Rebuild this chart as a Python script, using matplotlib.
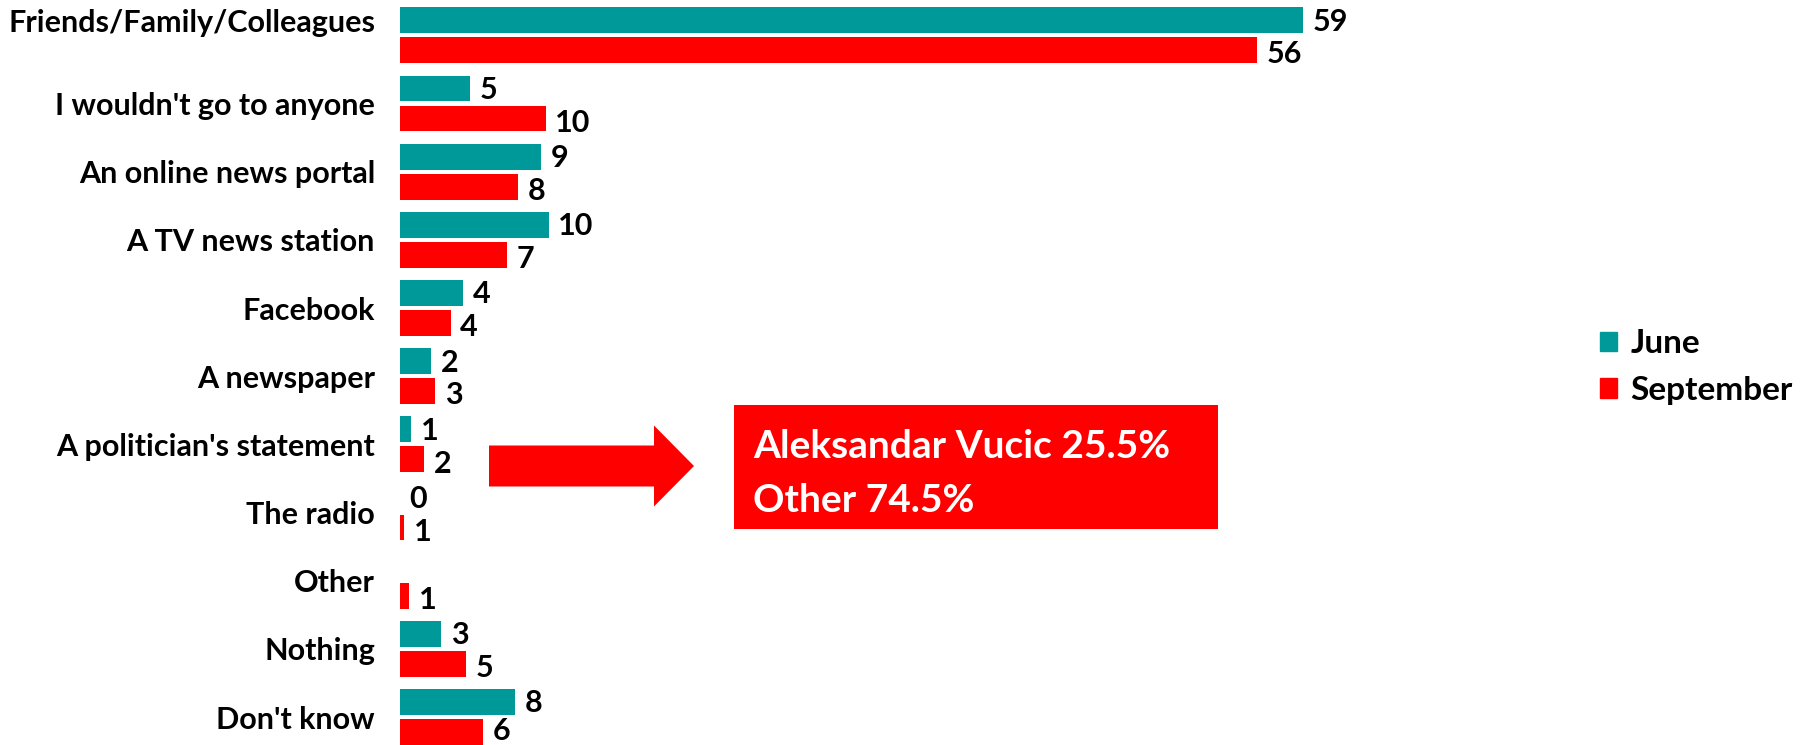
import numpy as np
import matplotlib
matplotlib.use('Agg')
from matplotlib import pyplot as plt
from matplotlib.patches import Patch, Rectangle, FancyArrow

# survey answers, top to bottom
categories = ['Friends/Family/Colleagues', "I wouldn't go to anyone", 'An online news portal',
              'A TV news station', 'Facebook', 'A newspaper', "A politician's statement",
              'The radio', 'Other', 'Nothing', "Don't know"]

# bar lengths as drawn in the picture (percent)
june = [58.9, 4.55, 9.2, 9.7, 4.1, 2.0, 0.7, 0.0, np.nan, 2.7, 7.5]
september = [55.9, 9.5, 7.7, 7.0, 3.3, 2.3, 1.55, 0.26, 0.57, 4.3, 5.4]

# the numbers printed next to the bars
june_labels = ['59', '5', '9', '10', '4', '2', '1', '0', '', '3', '8']
september_labels = ['56', '10', '8', '7', '4', '3', '2', '1', '1', '5', '6']

series_names = ['June', 'September']
box_lines = ['Aleksandar Vucic 25.5%', 'Other 74.5%']

TEAL = '#009999'
RED = '#FF0000'
FONT = 'Lato'

W, H = 1810, 745
fig = plt.figure(figsize=(W / 100, H / 100), dpi=100)

x0 = 400
xmax = 72
px_per_unit = 15.33
ax = fig.add_axes([x0 / W, 0, xmax * px_per_unit / W, 1])

y = np.arange(len(categories))
off = 0.22
bh = 0.38
ax.barh(y - off, june, height=bh, color=TEAL)
ax.barh(y + off, september, height=bh, color=RED)

n = len(categories)
for i in range(n):
	if june_labels[i]:
		v = 0 if np.isnan(june[i]) else june[i]
		ax.annotate(june_labels[i], (v, y[i] - off), xytext=(7, -1), textcoords='offset points',
		            va='center', ha='left', fontsize=22, fontweight='bold', family=FONT)
	# last label is nudged up so it stays inside the picture
	dy = 1 if i == n - 1 else -3
	ax.annotate(september_labels[i], (september[i], y[i] + off), xytext=(7, dy), textcoords='offset points',
	            va='center', ha='left', fontsize=22, fontweight='bold', family=FONT)

tick_pos = y.astype(float)
tick_pos[0] -= off  # first label sits level with the June bar
ax.set_yticks(tick_pos)
ax.set_yticklabels(categories, fontsize=22, fontweight='bold', family=FONT)
ax.tick_params(axis='y', length=0, pad=18)
ax.set_xticks([])
ax.set_xlim(0, xmax)
ax.set_ylim(10.41, -0.518)
for s in ax.spines.values():
	s.set_visible(False)

handles = [Patch(color=TEAL), Patch(color=RED)]
leg = fig.legend(handles, series_names, loc='center left', bbox_to_anchor=(1600 / W, 1 - 367 / H),
                 frameon=False, handlelength=0.52, handleheight=0.52, handletextpad=0.4,
                 labelspacing=0.53, borderpad=0, borderaxespad=0,
                 prop={'family': FONT, 'weight': 'bold', 'size': 24})

# overlay in pixel units for the arrow and the callout box
ov = fig.add_axes([0, 0, 1, 1], zorder=5)
ov.set_xlim(0, W)
ov.set_ylim(H, 0)
ov.axis('off')
ov.patch.set_alpha(0)
ov.add_patch(FancyArrow(489, 466, 205, 0, width=41, head_width=81, head_length=40,
                        length_includes_head=True, color=RED, lw=0))
ov.add_patch(Rectangle((734, 405), 484, 124, color=RED, lw=0))
ov.text(753, 458, box_lines[0], color='white', fontsize=28, fontweight='bold', family=FONT, va='baseline')
ov.text(753, 512, box_lines[1], color='white', fontsize=28, fontweight='bold', family=FONT, va='baseline')

fig.savefig('out.png', dpi=100)
